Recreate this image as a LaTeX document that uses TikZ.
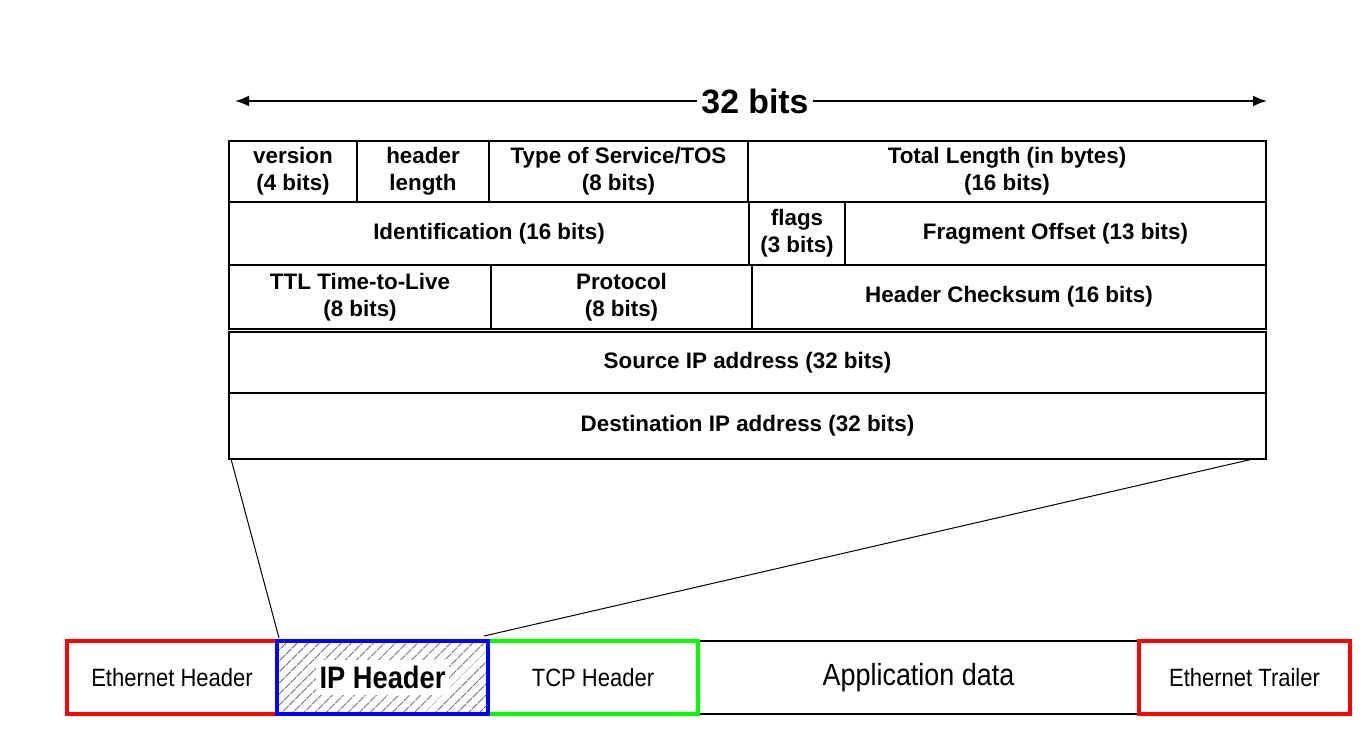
\documentclass[tikz,border=0pt]{standalone}
\usepackage{fontspec}
\setmainfont{Liberation Sans}
\newfontfamily\narrowfont[FakeStretch=0.88]{Liberation Sans}
\usepackage{tikz}
\usetikzlibrary{positioning}
\usetikzlibrary{arrows.meta,patterns.meta}

\definecolor{ethred}{RGB}{255,0,0}
\definecolor{ipblue}{RGB}{0,0,255}
\definecolor{tcpgreen}{RGB}{0,255,0}

\tikzset{
	field/.style={draw, line width=1pt, inner sep=0pt, outer sep=0pt, align=center,
		font=\bfseries\fontsize{11.2}{13.5}\selectfont},
	frame/.style={inner sep=0pt, outer sep=0pt, minimum height=36.5pt,
		font=\narrowfont\fontsize{12.5}{14}\selectfont},
}

\begin{document}
\begin{tikzpicture}[x=0.5pt, y=-0.5pt]
	
	\useasboundingbox (0,0) rectangle (1363,739);
	
	% width arrow on top
	\coordinate (ArrL) at (235,101);
	\coordinate (ArrR) at (1267,101);
	\node[inner sep=2pt, font=\bfseries\fontsize{16.9}{18}\selectfont] (bits) at (755,101) {32 bits};
	\draw[line width=1pt, -{Latex[length=7pt,width=5.5pt]}] (bits) -- (ArrL);
	\draw[line width=1pt, -{Latex[length=7pt,width=5.5pt]}] (bits) -- (ArrR);
	
	%%%%%%%%%%%%%%%%%%%%%%%%%%%%%%%%%%%%%%%%%%%%%%%%%%%%%%%%%%%%%%
	% the header, row by row (centres in pixels)
	
	\node[field, minimum width=64pt,    minimum height=30.5pt] (ver)   at (293,171.5)   {version\\(4 bits)};
	\node[field, minimum width=66pt,    minimum height=30.5pt] (hlen)  at (423,171.5)   {header\\length};
	\node[field, minimum width=129.5pt, minimum height=30.5pt] (tos)   at (618.5,171.5) {Type of Service/TOS\\(8 bits)};
	\node[field, minimum width=259pt,   minimum height=30.5pt] (tlen)  at (1007,171.5)  {Total Length (in bytes)\\(16 bits)};
	
	\node[field, minimum width=260pt,   minimum height=31.5pt] (ident) at (489,233.5)   {Identification (16 bits)};
	\node[field, minimum width=48pt,    minimum height=31.5pt] (flags) at (797,233.5)   {flags\\(3 bits)};
	\node[field, minimum width=210.5pt, minimum height=31.5pt] (frag)  at (1055.5,233.5){Fragment Offset (13 bits)};
	
	\node[field, minimum width=131pt,   minimum height=32pt]   (ttl)   at (360,297)     {TTL Time-to-Live\\(8 bits)};
	\node[field, minimum width=130.5pt, minimum height=32pt]   (proto) at (621.5,297)   {Protocol\\(8 bits)};
	\node[field, minimum width=257pt,   minimum height=32pt]   (cksum) at (1009,297)    {Header Checksum (16 bits)};
	
	\node[field, minimum width=518.5pt, minimum height=30.5pt] (src)   at (747.5,362.5) {Source IP address (32 bits)};
	\node[field, minimum width=518.5pt, minimum height=33pt]   (dst)   at (747.5,426)   {Destination IP address (32 bits)};
	
	%%%%%%%%%%%%%%%%%%%%%%%%%%%%%%%%%%%%%%%%%%%%%%%%%%%%%%%%%%%%%%
	% the frame at the bottom
	
	\node[frame, minimum width=220.5pt, font=\narrowfont\fontsize{15.3}{17}\selectfont] (app) at (918.5,677.5) {Application data};
	\draw[line width=1pt] (app.north west) -- (app.north east);
	\draw[line width=1pt] (app.south west) -- (app.south east);
	
	\node[frame, draw=ethred, line width=2pt, minimum width=105pt] (eth) at (172,677.5) {Ethernet Header};
	\node[frame, draw=ethred, line width=2pt, minimum width=105.5pt] (trl) at (1244.5,677.5) {Ethernet Trailer};
	\node[frame, draw=tcpgreen, line width=2pt, minimum width=105pt] (tcp) at (593,677.5) {TCP Header};
	\node[frame, draw=ipblue, line width=2pt, minimum width=105.5pt,
		pattern={Lines[angle=45, distance=4pt, line width=0.6pt]}, pattern color=black!60] (ip) at (382.5,677.5) {};
	\node[fill=white, inner xsep=2pt, inner ysep=3pt, font=\narrowfont\bfseries\fontsize{15.5}{17}\selectfont] (iplabel) at (ip.center) {IP Header};
	
	% zoom lines from the header down to its place in the frame
	\draw[line width=0.5pt] ([xshift=1pt]dst.south west) -- ([xshift=1pt,yshift=1.5pt]ip.north west);
	\draw[line width=0.5pt] ([xshift=-6.5pt]dst.south east) -- ([xshift=-2pt,yshift=2.5pt]ip.north east);
	
\end{tikzpicture}
\end{document}
